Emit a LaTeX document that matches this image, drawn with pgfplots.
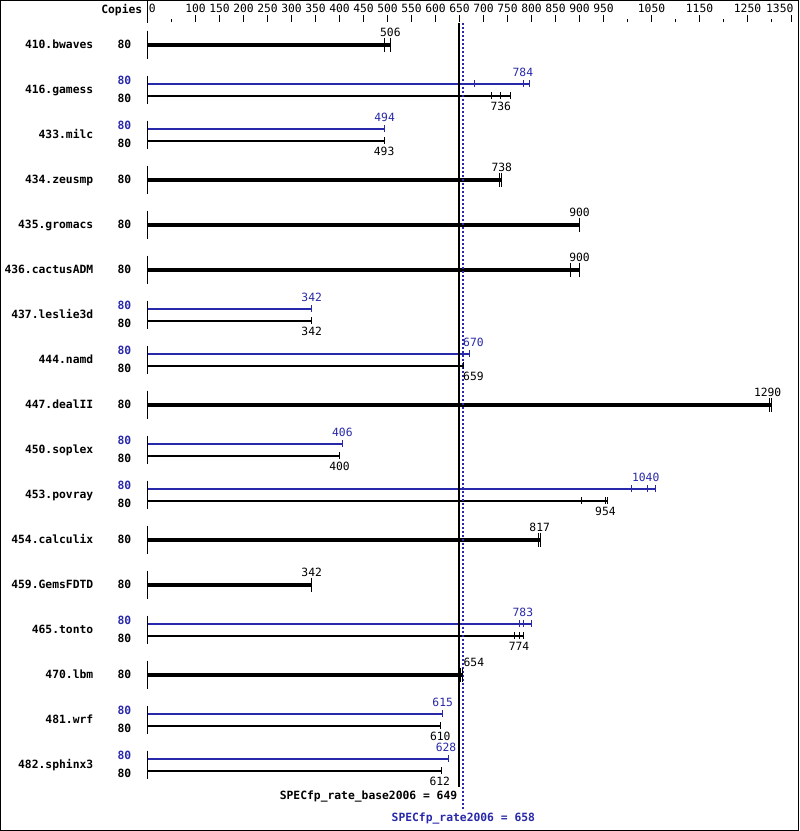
\documentclass[border=0pt]{standalone}
\usepackage{fontspec}
\setmainfont{DejaVu Sans Mono}
\usepackage{pgfplots}
\usepackage{pgfplotstable}
\pgfplotsset{compat=1.18}
\definecolor{peakblue}{RGB}{40,40,170}
\newcommand{\lbl}{\fontsize{8.5}{10}\selectfont}

% y values are rows in pixels from the top, x values are scores
\pgfplotstableread{
x y
0 0
0 22
nan nan
0 30
0 58
nan nan
0 75
0 103
nan nan
0 120
0 148
nan nan
0 165
0 193
nan nan
0 210
0 238
nan nan
0 255
0 283
nan nan
0 300
0 328
nan nan
0 345
0 373
nan nan
0 390
0 418
nan nan
0 435
0 463
nan nan
0 480
0 508
nan nan
0 525
0 553
nan nan
0 570
0 598
nan nan
0 615
0 643
nan nan
0 660
0 688
nan nan
0 705
0 733
nan nan
0 750
0 778
}\rowlines

% benchmarks with one result (base = peak)
\pgfplotstableread{
x y
0 44
506 44
nan nan
0 179
738 179
nan nan
0 224
900 224
nan nan
0 269
900 269
nan nan
0 404
1300 404
nan nan
0 539
818 539
nan nan
0 584
342 584
nan nan
0 674
656 674
}\singlebars

\pgfplotstableread{
x y
494 44
506 44
734 179
738 179
900 224
882 269
900 269
1295 404
1300 404
814 539
818 539
342 584
652 674
656 674
}\singleruns

\pgfplotstableread{
x y
0 83
795 83
nan nan
0 128
494 128
nan nan
0 308
342 308
nan nan
0 353
670 353
nan nan
0 443
406 443
nan nan
0 488
1059 488
nan nan
0 623
800 623
nan nan
0 713
615 713
nan nan
0 758
628 758
}\peakbars

\pgfplotstableread{
x y
681 83
784 83
795 83
494 128
342 308
670 353
406 443
1009 488
1041 488
1059 488
776 623
783 623
800 623
615 713
628 758
}\peakruns

\pgfplotstableread{
x y
0 95
757 95
nan nan
0 140
493 140
nan nan
0 320
342 320
nan nan
0 365
659 365
nan nan
0 455
400 455
nan nan
0 500
959 500
nan nan
0 635
784 635
nan nan
0 725
610 725
nan nan
0 770
612 770
}\basebars

\pgfplotstableread{
x y
717 95
736 95
757 95
493 140
342 320
659 365
400 455
905 500
955 500
959 500
765 635
774 635
784 635
610 725
612 770
}\baseruns

\pgfplotstableread{
x y label
506 32 506
738 167 738
900 212 900
900 257 900
1292 392 1290
817 527 817
342 572 342
680 662 654
736 106 736
493 151 493
342 331 342
679 376 659
400 466 400
954 511 954
774 646 774
610 736 610
609 781 612
}\blacklabels

\pgfplotstableread{
x y label
782 72 784
494 117 494
342 297 342
679 342 670
406 432 406
1038 477 1040
782 612 783
615 702 615
622 747 628
}\bluelabels

\pgfplotstableread{
x y name
-112.5 44 410.bwaves
-112.5 89 416.gamess
-112.5 134 433.milc
-112.5 179 434.zeusmp
-112.5 224 435.gromacs
-112.5 269 436.cactusADM
-112.5 314 437.leslie3d
-112.5 359 444.namd
-112.5 404 447.dealII
-112.5 449 450.soplex
-112.5 494 453.povray
-112.5 539 454.calculix
-112.5 584 459.GemsFDTD
-112.5 629 465.tonto
-112.5 674 470.lbm
-112.5 719 481.wrf
-112.5 764 482.sphinx3
}\names

\pgfplotstableread{
x y copies
-33.3 44 80
-33.3 98 80
-33.3 143 80
-33.3 179 80
-33.3 224 80
-33.3 269 80
-33.3 323 80
-33.3 368 80
-33.3 404 80
-33.3 458 80
-33.3 503 80
-33.3 539 80
-33.3 584 80
-33.3 638 80
-33.3 674 80
-33.3 728 80
-33.3 773 80
}\basecopies

\pgfplotstableread{
x y copies
-33.3 80 80
-33.3 125 80
-33.3 305 80
-33.3 350 80
-33.3 440 80
-33.3 485 80
-33.3 620 80
-33.3 710 80
-33.3 755 80
}\peakcopies

\begin{document}
\begin{tikzpicture}
\begin{axis}[
  at={(0,0)}, anchor=north west,
  scale only axis, width=598.5pt, height=622.5pt,
  xmin=-306.25, xmax=1356.25, ymin=0, ymax=830, y dir=reverse,
  axis line style={line width=0.75pt},
  xtick=\empty, ytick=\empty,
  clip=false, unbounded coords=jump,
]
\addplot[black, line width=0.75pt, mark=none] table {\rowlines};
\addplot[black, line width=3pt, mark=none] table {\singlebars};
\addplot[only marks, mark=|, mark size=5.25pt, mark options={black, line width=0.75pt}] table {\singleruns};
\addplot[peakblue, line width=1.5pt, mark=none] table {\peakbars};
\addplot[only marks, mark=|, mark size=2.6pt, mark options={peakblue, line width=0.75pt}] table {\peakruns};
\addplot[black, line width=1.5pt, mark=none] table {\basebars};
\addplot[only marks, mark=|, mark size=2.6pt, mark options={black, line width=0.75pt}] table {\baseruns};
% overall results
\addplot[black, line width=1.5pt, mark=none] coordinates {(649,22) (649,786)};
\addplot[peakblue, line width=1.5pt, mark=none, dash pattern=on 1.5pt off 1.5pt] coordinates {(658,22) (658,808)};
% texts
\addplot[draw=none, mark=none, nodes near coords, point meta=explicit symbolic,
  nodes near coords style={anchor=mid, font=\lbl, inner sep=0pt, text=black}]
  table[meta=label] {\blacklabels};
\addplot[draw=none, mark=none, nodes near coords, point meta=explicit symbolic,
  nodes near coords style={anchor=mid, font=\lbl, inner sep=0pt, text=peakblue}]
  table[meta=label] {\bluelabels};
\addplot[draw=none, mark=none, nodes near coords, point meta=explicit symbolic,
  nodes near coords style={anchor=mid east, font=\lbl\bfseries, inner sep=0pt, text=black}]
  table[meta=name] {\names};
\addplot[draw=none, mark=none, nodes near coords, point meta=explicit symbolic,
  nodes near coords style={anchor=mid east, font=\lbl\bfseries, inner sep=0pt, text=black}]
  table[meta=copies] {\basecopies};
\addplot[draw=none, mark=none, nodes near coords, point meta=explicit symbolic,
  nodes near coords style={anchor=mid east, font=\lbl\bfseries, inner sep=0pt, text=peakblue}]
  table[meta=copies] {\peakcopies};
\node[anchor=mid east, font=\lbl\bfseries, inner sep=0pt] at (axis cs:-10.4,9) {Copies};
\node[anchor=mid east, font=\lbl\bfseries, inner sep=0pt] at (axis cs:645.8,795) {SPECfp\_rate\_base2006 = 649};
\node[anchor=mid, font=\lbl\bfseries, inner sep=0pt, text=peakblue] at (axis cs:658,817) {SPECfp\_rate2006 = 658};
\end{axis}
% scale at the top: its upper edge lies 22px below the frame
\begin{axis}[
  at={(0,-16.5pt)}, anchor=north west,
  scale only axis, width=598.5pt, height=5pt,
  xmin=-306.25, xmax=1356.25, ymin=0, ymax=1,
  axis x line*=top, axis y line=none,
  x axis line style={draw=none},
  xtick align=outside,
  xtick={0,100,150,200,250,300,350,400,450,500,550,600,650,700,750,800,850,900,950,1050,1150,1250,1341},
  xticklabels={\rlap{\kern1pt 0},100,150,200,250,300,350,400,450,500,550,600,650,700,750,800,850,900,950,1050,1150,1250,\llap{1350\kern-1.7pt}},
  minor xtick={50,1000,1100,1200,1300},
  major tick length=5.25pt, minor tick length=2.6pt,
  tick style={black, line width=0.75pt},
  xticklabel style={font=\lbl, inner sep=2pt},
  /pgf/number format/assume math mode=true,
]
\addplot[draw=none] coordinates {(0,0)};
\end{axis}
\end{tikzpicture}
\end{document}
